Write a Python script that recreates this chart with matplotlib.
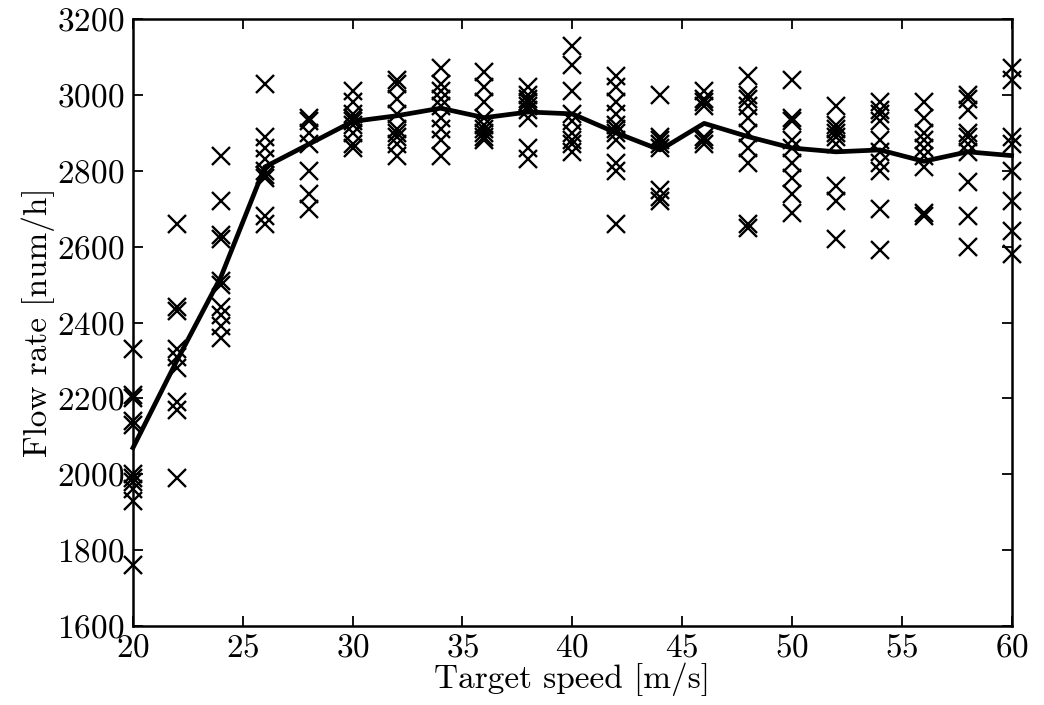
import matplotlib
matplotlib.use("Agg")
import matplotlib.pyplot as plt

plt.rcParams['font.family'] = ['cmr10', 'DejaVu Serif']
plt.rcParams['axes.formatter.use_mathtext'] = True

speeds = [20, 22, 24, 26, 28, 30, 32, 34, 36, 38, 40, 42, 44, 46, 48, 50, 52, 54, 56, 58, 60]

samples = {
    20: [2330, 2210, 2200, 2140, 2130, 2000, 1990, 1980, 1960, 1930, 1760],
    22: [2660, 2440, 2430, 2330, 2310, 2280, 2190, 2170, 1990],
    24: [2840, 2720, 2630, 2620, 2510, 2500, 2440, 2420, 2390, 2360],
    26: [3030, 2890, 2860, 2830, 2800, 2790, 2780, 2680, 2660],
    28: [2940, 2930, 2900, 2870, 2800, 2740, 2700],
    30: [3010, 2980, 2950, 2940, 2930, 2920, 2900, 2870, 2860],
    32: [3040, 3030, 2990, 2950, 2910, 2900, 2890, 2870, 2840],
    34: [3070, 3030, 3010, 2990, 2970, 2940, 2910, 2880, 2840],
    36: [3060, 3020, 2980, 2940, 2920, 2910, 2900, 2890, 2880],
    38: [3020, 3000, 2990, 2980, 2970, 2960, 2940, 2860, 2830],
    40: [3130, 3080, 3010, 2950, 2930, 2900, 2880, 2870, 2850],
    42: [3050, 3020, 2980, 2950, 2920, 2910, 2900, 2880, 2820, 2800, 2660],
    44: [3000, 2890, 2880, 2870, 2860, 2750, 2730, 2720],
    46: [3010, 2990, 2980, 2970, 2890, 2880, 2870],
    48: [3050, 3000, 2990, 2970, 2940, 2900, 2860, 2820, 2660, 2650],
    50: [3040, 2940, 2930, 2880, 2860, 2820, 2780, 2740, 2690],
    52: [2970, 2920, 2910, 2900, 2890, 2870, 2760, 2720, 2620],
    54: [2980, 2960, 2950, 2930, 2880, 2850, 2820, 2800, 2700, 2590],
    56: [2980, 2940, 2900, 2880, 2860, 2840, 2810, 2690, 2680],
    58: [3000, 2990, 2960, 2900, 2890, 2870, 2850, 2770, 2680, 2600],
    60: [3070, 3040, 2890, 2870, 2800, 2720, 2640, 2580],
}

mean_flow = [2070, 2300, 2520, 2810, 2870, 2930, 2945, 2965, 2940, 2955, 2950,
             2900, 2855, 2925, 2890, 2860, 2850, 2855, 2825, 2850, 2840]

x_ticks = [20, 25, 30, 35, 40, 45, 50, 55, 60]
y_ticks = [1600, 1800, 2000, 2200, 2400, 2600, 2800, 3000, 3200]

fig = plt.figure(figsize=(10.44, 7.05), dpi=100)
ax = fig.add_axes([0.1274, 0.112, 0.8416, 0.861])

for s in speeds:
    vals = samples[s]
    ax.plot([s] * len(vals), vals, linestyle='none', marker='x', color='black',
            markersize=13.5, markeredgewidth=1.7, clip_on=False)

ax.plot(speeds, mean_flow, color='black', linewidth=3.4, clip_on=False)

ax.set_xlim(20, 60)
ax.set_ylim(1600, 3200)
ax.set_xticks(x_ticks)
ax.set_yticks(y_ticks)
ax.tick_params(direction='in', top=True, right=True, length=7, width=1.3,
               labelsize=24)
ax.tick_params(axis='x', pad=5)
ax.tick_params(axis='y', pad=6)
for sp in ax.spines.values():
    sp.set_linewidth(1.8)

ax.set_xlabel('Target speed [m/s]', fontsize=24, labelpad=0)
ax.set_ylabel('Flow rate [num/h]', fontsize=24, labelpad=2)

fig.savefig('out.png', dpi=100)
